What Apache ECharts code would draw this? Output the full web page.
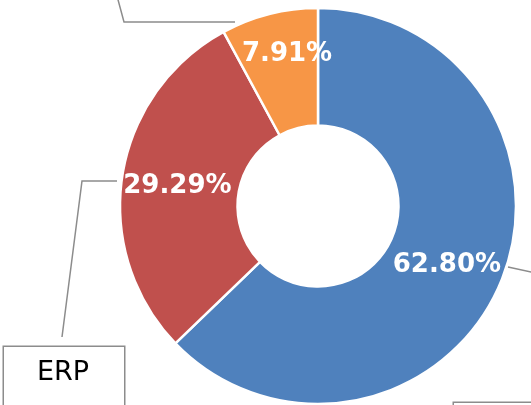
<!DOCTYPE html>
<html>
<head>
<meta charset="utf-8">
<script src="https://cdn.jsdelivr.net/npm/echarts@6/dist/echarts.min.js"></script>
<style>
html,body{margin:0;padding:0;background:#fff;}
#chart{width:531px;height:405px;}
</style>
</head>
<body>
<div id="chart"></div>
<script>
// ---- data ----
var categories = ['Other', 'ERP', 'Misc'];
var shares = [62.80, 29.29, 7.91];
var colors = ['#4F81BD', '#C0504D', '#F79646'];

// ---- layout / style (not data) ----
var center = [318, 206];
var radius = [80.5, 198];
var innerLabelShift = [[-2, 4], [0, 2], [4, -14]];
var outerBoxPos = [[454, 403], [4, 347], [40, -90]];
var leaderLines = [
  [[508, 267], [545, 275], [560, 403]],
  [[117, 181], [82, 181], [62, 337]],
  [[235, 22], [124, 22], [110, -30]]
];

var pieData = categories.map(function (c, i) {
  return { name: c, value: shares[i], itemStyle: { color: colors[i] } };
});

var chart = echarts.init(document.getElementById('chart'), null, { renderer: 'canvas' });
chart.setOption({
  animation: false,
  backgroundColor: '#fff',
  series: [
    {
      type: 'pie',
      z: 2,
      center: center,
      radius: radius,
      startAngle: 90,
      clockwise: true,
      avoidLabelOverlap: false,
      silent: true,
      data: pieData,
      itemStyle: { borderColor: '#fff', borderWidth: 2.5 },
      label: {
        show: true,
        position: 'inside',
        color: '#fff',
        fontFamily: 'DejaVu Sans',
        fontWeight: 'bold',
        fontSize: 26,
        textBorderWidth: 0,
        formatter: function (p) { return p.value.toFixed(2) + '%'; }
      },
      labelLayout: function (p) {
        var s = innerLabelShift[p.dataIndex];
        return { dx: s[0], dy: s[1] };
      },
      labelLine: { show: false },
      emphasis: { disabled: true }
    },
    {
      type: 'pie',
      z: 1,
      center: center,
      radius: radius,
      startAngle: 90,
      clockwise: true,
      avoidLabelOverlap: false,
      silent: true,
      data: categories.map(function (c, i) {
        return { name: c, value: shares[i] };
      }),
      itemStyle: { color: 'rgba(0,0,0,0)', borderWidth: 0 },
      label: {
        show: true,
        position: 'outside',
        formatter: '{b}',
        color: '#000',
        fontFamily: 'DejaVu Sans',
        fontSize: 27,
        lineHeight: 32,
        width: 54,
        overflow: 'none',
        align: 'center',
        backgroundColor: '#fff',
        borderColor: '#8c8c8c',
        borderWidth: 1.5,
        padding: [10, 33, 40, 33]
      },
      labelLine: {
        show: true,
        lineStyle: { color: '#8c8c8c', width: 1.5 }
      },
      labelLayout: function (p) {
        var i = p.dataIndex;
        return {
          x: outerBoxPos[i][0],
          y: outerBoxPos[i][1],
          align: 'left',
          verticalAlign: 'top',
          width: 54,
          labelLinePoints: leaderLines[i]
        };
      },
      emphasis: { disabled: true }
    }
  ]
});
</script>
</body>
</html>
